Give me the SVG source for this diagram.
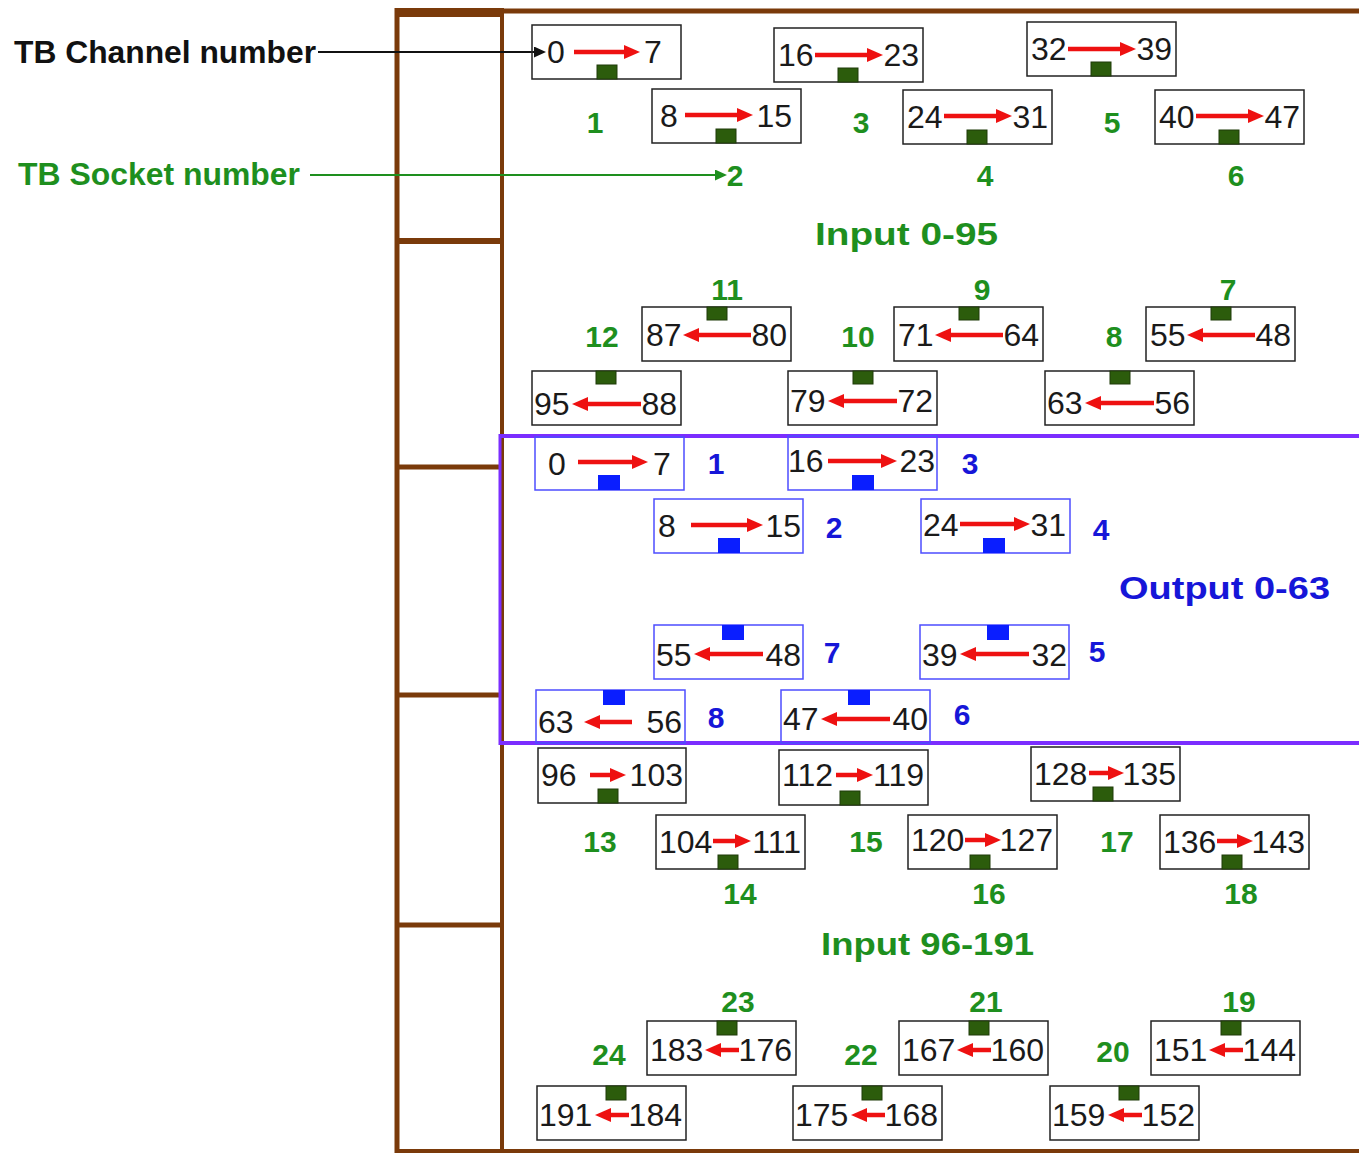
<svg xmlns="http://www.w3.org/2000/svg" width="1359" height="1153" viewBox="0 0 1359 1153">
<defs>
<style>
.bx{fill:none;stroke:#222;stroke-width:1.5}
.bxb{fill:none;stroke:#4d4dff;stroke-width:1.5}
.n{font-family:"Liberation Sans",Arial,sans-serif;font-size:32px;fill:#1a1a1a}
.e{text-anchor:end}
.ar{stroke:#ee1111;stroke-width:4.5;fill:none;marker-end:url(#ah)}
.gm{fill:#2c5c0c;stroke:#1e3a08;stroke-width:1}
.bm{fill:#0a1eff}
.lg{font-family:"Liberation Sans",Arial,sans-serif;font-weight:bold;font-size:30px;fill:#1e8f1e;text-anchor:middle}
.lb{font-family:"Liberation Sans",Arial,sans-serif;font-weight:bold;font-size:30px;fill:#1616d8;text-anchor:middle}
.tt{font-family:"Liberation Sans",Arial,sans-serif;font-weight:bold;font-size:32px}
.br{stroke:#7a3a0a;fill:none}
</style>
<marker id="ah" viewBox="0 0 16 14" markerUnits="userSpaceOnUse" markerWidth="16" markerHeight="14" refX="4" refY="7" orient="auto"><path d="M0,0L16,7L0,14z" fill="#ee1111"/></marker>
<marker id="ahk" viewBox="0 0 12 11" markerUnits="userSpaceOnUse" markerWidth="12" markerHeight="11" refX="4" refY="5.5" orient="auto"><path d="M0,0L12,5.5L0,11z" fill="#111"/></marker>
<marker id="ahg" viewBox="0 0 12 11" markerUnits="userSpaceOnUse" markerWidth="12" markerHeight="11" refX="4" refY="5.5" orient="auto"><path d="M0,0L12,5.5L0,11z" fill="#1e8f1e"/></marker>
</defs>
<rect width="1359" height="1153" fill="#fff"/>

<g id="frame">
<line class="br" x1="395" y1="11" x2="1359" y2="11" stroke-width="5"/>
<rect x="395" y="8" width="109" height="9" fill="#7a3a0a"/>
<line class="br" x1="397" y1="8" x2="397" y2="1153" stroke-width="5"/>
<line class="br" x1="502" y1="8" x2="502" y2="1153" stroke-width="4"/>
<line class="br" x1="395" y1="241" x2="504" y2="241" stroke-width="6"/>
<line class="br" x1="395" y1="467" x2="504" y2="467" stroke-width="5"/>
<line class="br" x1="395" y1="695" x2="504" y2="695" stroke-width="5"/>
<line class="br" x1="395" y1="925" x2="504" y2="925" stroke-width="5"/>
<line class="br" x1="395" y1="1151" x2="1359" y2="1151" stroke-width="4"/>
</g>

<g id="output-band">
<line x1="500" y1="436" x2="1359" y2="436" stroke="#7b2dff" stroke-width="4"/>
<line x1="500" y1="743" x2="1359" y2="743" stroke="#7b2dff" stroke-width="4"/>
<line x1="500" y1="434" x2="500" y2="745" stroke="#7b2dff" stroke-width="3"/>
</g>

<g id="legend">
<text id="tb-channel" class="tt" x="14" y="63" fill="#111" textLength="302" lengthAdjust="spacingAndGlyphs">TB Channel number</text>
<text id="tb-socket" class="tt" x="18" y="185" fill="#1e8f1e" textLength="282" lengthAdjust="spacingAndGlyphs">TB Socket number</text>
</g>

<g id="connectors">
<line x1="318" y1="52" x2="538" y2="52" stroke="#111" stroke-width="2" marker-end="url(#ahk)"/>
<line x1="310" y1="175" x2="719" y2="175" stroke="#1e8f1e" stroke-width="2" marker-end="url(#ahg)"/>
</g>

<g id="titles">
<text class="tt" x="815" y="245" fill="#1e8f1e" textLength="183" lengthAdjust="spacingAndGlyphs">Input 0-95</text>
<text class="tt" x="1119" y="599" fill="#1616d8" textLength="211" lengthAdjust="spacingAndGlyphs">Output 0-63</text>
<text class="tt" x="821" y="955" fill="#1e8f1e" textLength="213" lengthAdjust="spacingAndGlyphs">Input 96-191</text>
</g>

<!-- Input 0-95 -->
<g id="in-0-7" transform="translate(532,25)"><rect class="bx" width="149" height="54"/><text class="n" x="15" y="38">0</text><line class="ar" x1="42" y1="27" x2="96" y2="27"/><text class="n" x="112" y="38">7</text><rect class="gm" x="65" y="40" width="20" height="14"/></g>
<g id="in-16-23" transform="translate(774,28)"><rect class="bx" width="149" height="54"/><text class="n" x="4" y="38">16</text><line class="ar" x1="41" y1="27" x2="97" y2="27"/><text class="n e" x="145" y="38">23</text><rect class="gm" x="64" y="40" width="20" height="14"/></g>
<g id="in-32-39" transform="translate(1027,22)"><rect class="bx" width="149" height="54"/><text class="n" x="4" y="38">32</text><line class="ar" x1="41" y1="27" x2="97" y2="27"/><text class="n e" x="145" y="38">39</text><rect class="gm" x="64" y="40" width="20" height="14"/></g>
<g id="in-8-15" transform="translate(652,89)"><rect class="bx" width="149" height="54"/><text class="n" x="8" y="38">8</text><line class="ar" x1="33" y1="26" x2="89" y2="26"/><text class="n e" x="140" y="38">15</text><rect class="gm" x="64" y="40" width="20" height="14"/></g>
<g id="in-24-31" transform="translate(903,90)"><rect class="bx" width="149" height="54"/><text class="n" x="4" y="38">24</text><line class="ar" x1="41" y1="26" x2="97" y2="26"/><text class="n e" x="145" y="38">31</text><rect class="gm" x="64" y="40" width="20" height="14"/></g>
<g id="in-40-47" transform="translate(1155,90)"><rect class="bx" width="149" height="54"/><text class="n" x="4" y="38">40</text><line class="ar" x1="41" y1="26" x2="97" y2="26"/><text class="n e" x="145" y="38">47</text><rect class="gm" x="64" y="40" width="20" height="14"/></g>

<g id="in-87-80" transform="translate(642,307)"><rect class="bx" width="149" height="54"/><rect class="gm" x="65" y="0" width="20" height="13"/><text class="n" x="4" y="39">87</text><line class="ar" x1="109" y1="28" x2="53" y2="28"/><text class="n e" x="145" y="39">80</text></g>
<g id="in-71-64" transform="translate(894,307)"><rect class="bx" width="149" height="54"/><rect class="gm" x="65" y="0" width="20" height="13"/><text class="n" x="4" y="39">71</text><line class="ar" x1="109" y1="28" x2="53" y2="28"/><text class="n e" x="145" y="39">64</text></g>
<g id="in-55-48" transform="translate(1146,307)"><rect class="bx" width="149" height="54"/><rect class="gm" x="65" y="0" width="20" height="13"/><text class="n" x="4" y="39">55</text><line class="ar" x1="109" y1="28" x2="53" y2="28"/><text class="n e" x="145" y="39">48</text></g>
<g id="in-95-88" transform="translate(532,371)"><rect class="bx" width="149" height="54"/><rect class="gm" x="64" y="0" width="20" height="13"/><text class="n" x="2" y="44">95</text><line class="ar" x1="109" y1="33" x2="52" y2="33"/><text class="n e" x="145" y="44">88</text></g>
<g id="in-79-72" transform="translate(788,371)"><rect class="bx" width="149" height="54"/><rect class="gm" x="65" y="0" width="20" height="13"/><text class="n" x="2" y="41">79</text><line class="ar" x1="109" y1="30" x2="52" y2="30"/><text class="n e" x="145" y="41">72</text></g>
<g id="in-63-56" transform="translate(1045,371)"><rect class="bx" width="149" height="54"/><rect class="gm" x="65" y="0" width="20" height="13"/><text class="n" x="2" y="43">63</text><line class="ar" x1="109" y1="32" x2="52" y2="32"/><text class="n e" x="145" y="43">56</text></g>

<!-- Output 0-63 -->
<g id="out-0-7" transform="translate(535,437)"><rect class="bxb" width="149" height="53"/><text class="n" x="13" y="38">0</text><line class="ar" x1="43" y1="25" x2="101" y2="25"/><text class="n" x="118" y="38">7</text><rect class="bm" x="63" y="38" width="22" height="15"/></g>
<g id="out-16-23" transform="translate(788,436)"><rect class="bxb" width="149" height="54"/><text class="n" x="0" y="36">16</text><line class="ar" x1="40" y1="25" x2="97" y2="25"/><text class="n e" x="147" y="36">23</text><rect class="bm" x="64" y="39" width="22" height="15"/></g>
<g id="out-8-15" transform="translate(654,499)"><rect class="bxb" width="149" height="54"/><text class="n" x="4" y="38">8</text><line class="ar" x1="37" y1="26" x2="97" y2="26"/><text class="n e" x="147" y="38">15</text><rect class="bm" x="64" y="39" width="22" height="15"/></g>
<g id="out-24-31" transform="translate(921,499)"><rect class="bxb" width="149" height="54"/><text class="n" x="2" y="37">24</text><line class="ar" x1="39" y1="25" x2="97" y2="25"/><text class="n e" x="145" y="37">31</text><rect class="bm" x="62" y="39" width="22" height="15"/></g>
<g id="out-55-48" transform="translate(654,625)"><rect class="bxb" width="149" height="54"/><rect class="bm" x="68" y="0" width="22" height="15"/><text class="n" x="2" y="41">55</text><line class="ar" x1="109" y1="29" x2="52" y2="29"/><text class="n e" x="147" y="41">48</text></g>
<g id="out-39-32" transform="translate(920,625)"><rect class="bxb" width="149" height="54"/><rect class="bm" x="67" y="0" width="22" height="15"/><text class="n" x="2" y="41">39</text><line class="ar" x1="109" y1="29" x2="52" y2="29"/><text class="n e" x="147" y="41">32</text></g>
<g id="out-63-56" transform="translate(536,690)"><rect class="bxb" width="149" height="53"/><rect class="bm" x="67" y="0" width="22" height="15"/><text class="n" x="2" y="43">63</text><line class="ar" x1="96" y1="32" x2="60" y2="32"/><text class="n e" x="146" y="43">56</text></g>
<g id="out-47-40" transform="translate(781,690)"><rect class="bxb" width="149" height="53"/><rect class="bm" x="67" y="0" width="22" height="15"/><text class="n" x="2" y="40">47</text><line class="ar" x1="109" y1="29" x2="52" y2="29"/><text class="n e" x="147" y="40">40</text></g>

<!-- Input 96-191 -->
<g id="in-96-103" transform="translate(538,748)"><rect class="bx" width="148" height="55"/><text class="n" x="3" y="38">96</text><line class="ar" x1="52" y1="27" x2="76" y2="27"/><text class="n e" x="145" y="38">103</text><rect class="gm" x="60" y="41" width="20" height="14"/></g>
<g id="in-112-119" transform="translate(779,750)"><rect class="bx" width="149" height="55"/><text class="n" x="3" y="36">112</text><line class="ar" x1="57" y1="25" x2="82" y2="25"/><text class="n e" x="145" y="36">119</text><rect class="gm" x="61" y="41" width="20" height="14"/></g>
<g id="in-128-135" transform="translate(1031,747)"><rect class="bx" width="149" height="54"/><text class="n" x="3" y="38">128</text><line class="ar" x1="58" y1="26" x2="81" y2="26"/><text class="n e" x="145" y="38">135</text><rect class="gm" x="62" y="40" width="20" height="14"/></g>
<g id="in-104-111" transform="translate(656,815)"><rect class="bx" width="149" height="54"/><text class="n" x="3" y="38">104</text><line class="ar" x1="57" y1="26" x2="83" y2="26"/><text class="n e" x="145" y="38">111</text><rect class="gm" x="62" y="40" width="20" height="14"/></g>
<g id="in-120-127" transform="translate(908,815)"><rect class="bx" width="149" height="54"/><text class="n" x="3" y="36">120</text><line class="ar" x1="57" y1="25" x2="81" y2="25"/><text class="n e" x="145" y="36">127</text><rect class="gm" x="62" y="40" width="20" height="14"/></g>
<g id="in-136-143" transform="translate(1160,815)"><rect class="bx" width="149" height="54"/><text class="n" x="3" y="38">136</text><line class="ar" x1="57" y1="26" x2="81" y2="26"/><text class="n e" x="145" y="38">143</text><rect class="gm" x="62" y="40" width="20" height="14"/></g>

<g id="in-183-176" transform="translate(647,1021)"><rect class="bx" width="149" height="54"/><rect class="gm" x="70" y="0" width="20" height="14"/><text class="n" x="3" y="40">183</text><line class="ar" x1="92" y1="29" x2="70" y2="29"/><text class="n e" x="145" y="40">176</text></g>
<g id="in-167-160" transform="translate(899,1021)"><rect class="bx" width="149" height="54"/><rect class="gm" x="70" y="0" width="20" height="14"/><text class="n" x="3" y="40">167</text><line class="ar" x1="92" y1="29" x2="70" y2="29"/><text class="n e" x="145" y="40">160</text></g>
<g id="in-151-144" transform="translate(1151,1021)"><rect class="bx" width="149" height="54"/><rect class="gm" x="70" y="0" width="20" height="14"/><text class="n" x="3" y="40">151</text><line class="ar" x1="92" y1="29" x2="70" y2="29"/><text class="n e" x="145" y="40">144</text></g>
<g id="in-191-184" transform="translate(537,1086)"><rect class="bx" width="149" height="54"/><rect class="gm" x="69" y="0" width="20" height="14"/><text class="n" x="2" y="40">191</text><line class="ar" x1="92" y1="29" x2="70" y2="29"/><text class="n e" x="145" y="40">184</text></g>
<g id="in-175-168" transform="translate(793,1086)"><rect class="bx" width="149" height="54"/><rect class="gm" x="69" y="0" width="20" height="14"/><text class="n" x="2" y="40">175</text><line class="ar" x1="92" y1="29" x2="70" y2="29"/><text class="n e" x="145" y="40">168</text></g>
<g id="in-159-152" transform="translate(1050,1086)"><rect class="bx" width="149" height="54"/><rect class="gm" x="69" y="0" width="20" height="14"/><text class="n" x="2" y="40">159</text><line class="ar" x1="92" y1="29" x2="70" y2="29"/><text class="n e" x="145" y="40">152</text></g>

<g id="socket-labels">
<text class="lg" x="595" y="133">1</text>
<text class="lg" x="861" y="133">3</text>
<text class="lg" x="1112" y="133">5</text>
<text class="lg" x="735" y="186">2</text>
<text class="lg" x="985" y="186">4</text>
<text class="lg" x="1236" y="186">6</text>
<text class="lg" x="727" y="300">11</text>
<text class="lg" x="982" y="300">9</text>
<text class="lg" x="1228" y="300">7</text>
<text class="lg" x="602" y="347">12</text>
<text class="lg" x="858" y="347">10</text>
<text class="lg" x="1114" y="347">8</text>
<text class="lb" x="716" y="474">1</text>
<text class="lb" x="970" y="474">3</text>
<text class="lb" x="834" y="538">2</text>
<text class="lb" x="1101" y="540">4</text>
<text class="lb" x="832" y="663">7</text>
<text class="lb" x="1097" y="662">5</text>
<text class="lb" x="716" y="728">8</text>
<text class="lb" x="962" y="725">6</text>
<text class="lg" x="600" y="852">13</text>
<text class="lg" x="866" y="852">15</text>
<text class="lg" x="1117" y="852">17</text>
<text class="lg" x="740" y="904">14</text>
<text class="lg" x="989" y="904">16</text>
<text class="lg" x="1241" y="904">18</text>
<text class="lg" x="738" y="1012">23</text>
<text class="lg" x="986" y="1012">21</text>
<text class="lg" x="1239" y="1012">19</text>
<text class="lg" x="609" y="1065">24</text>
<text class="lg" x="861" y="1065">22</text>
<text class="lg" x="1113" y="1062">20</text>
</g>
</svg>
